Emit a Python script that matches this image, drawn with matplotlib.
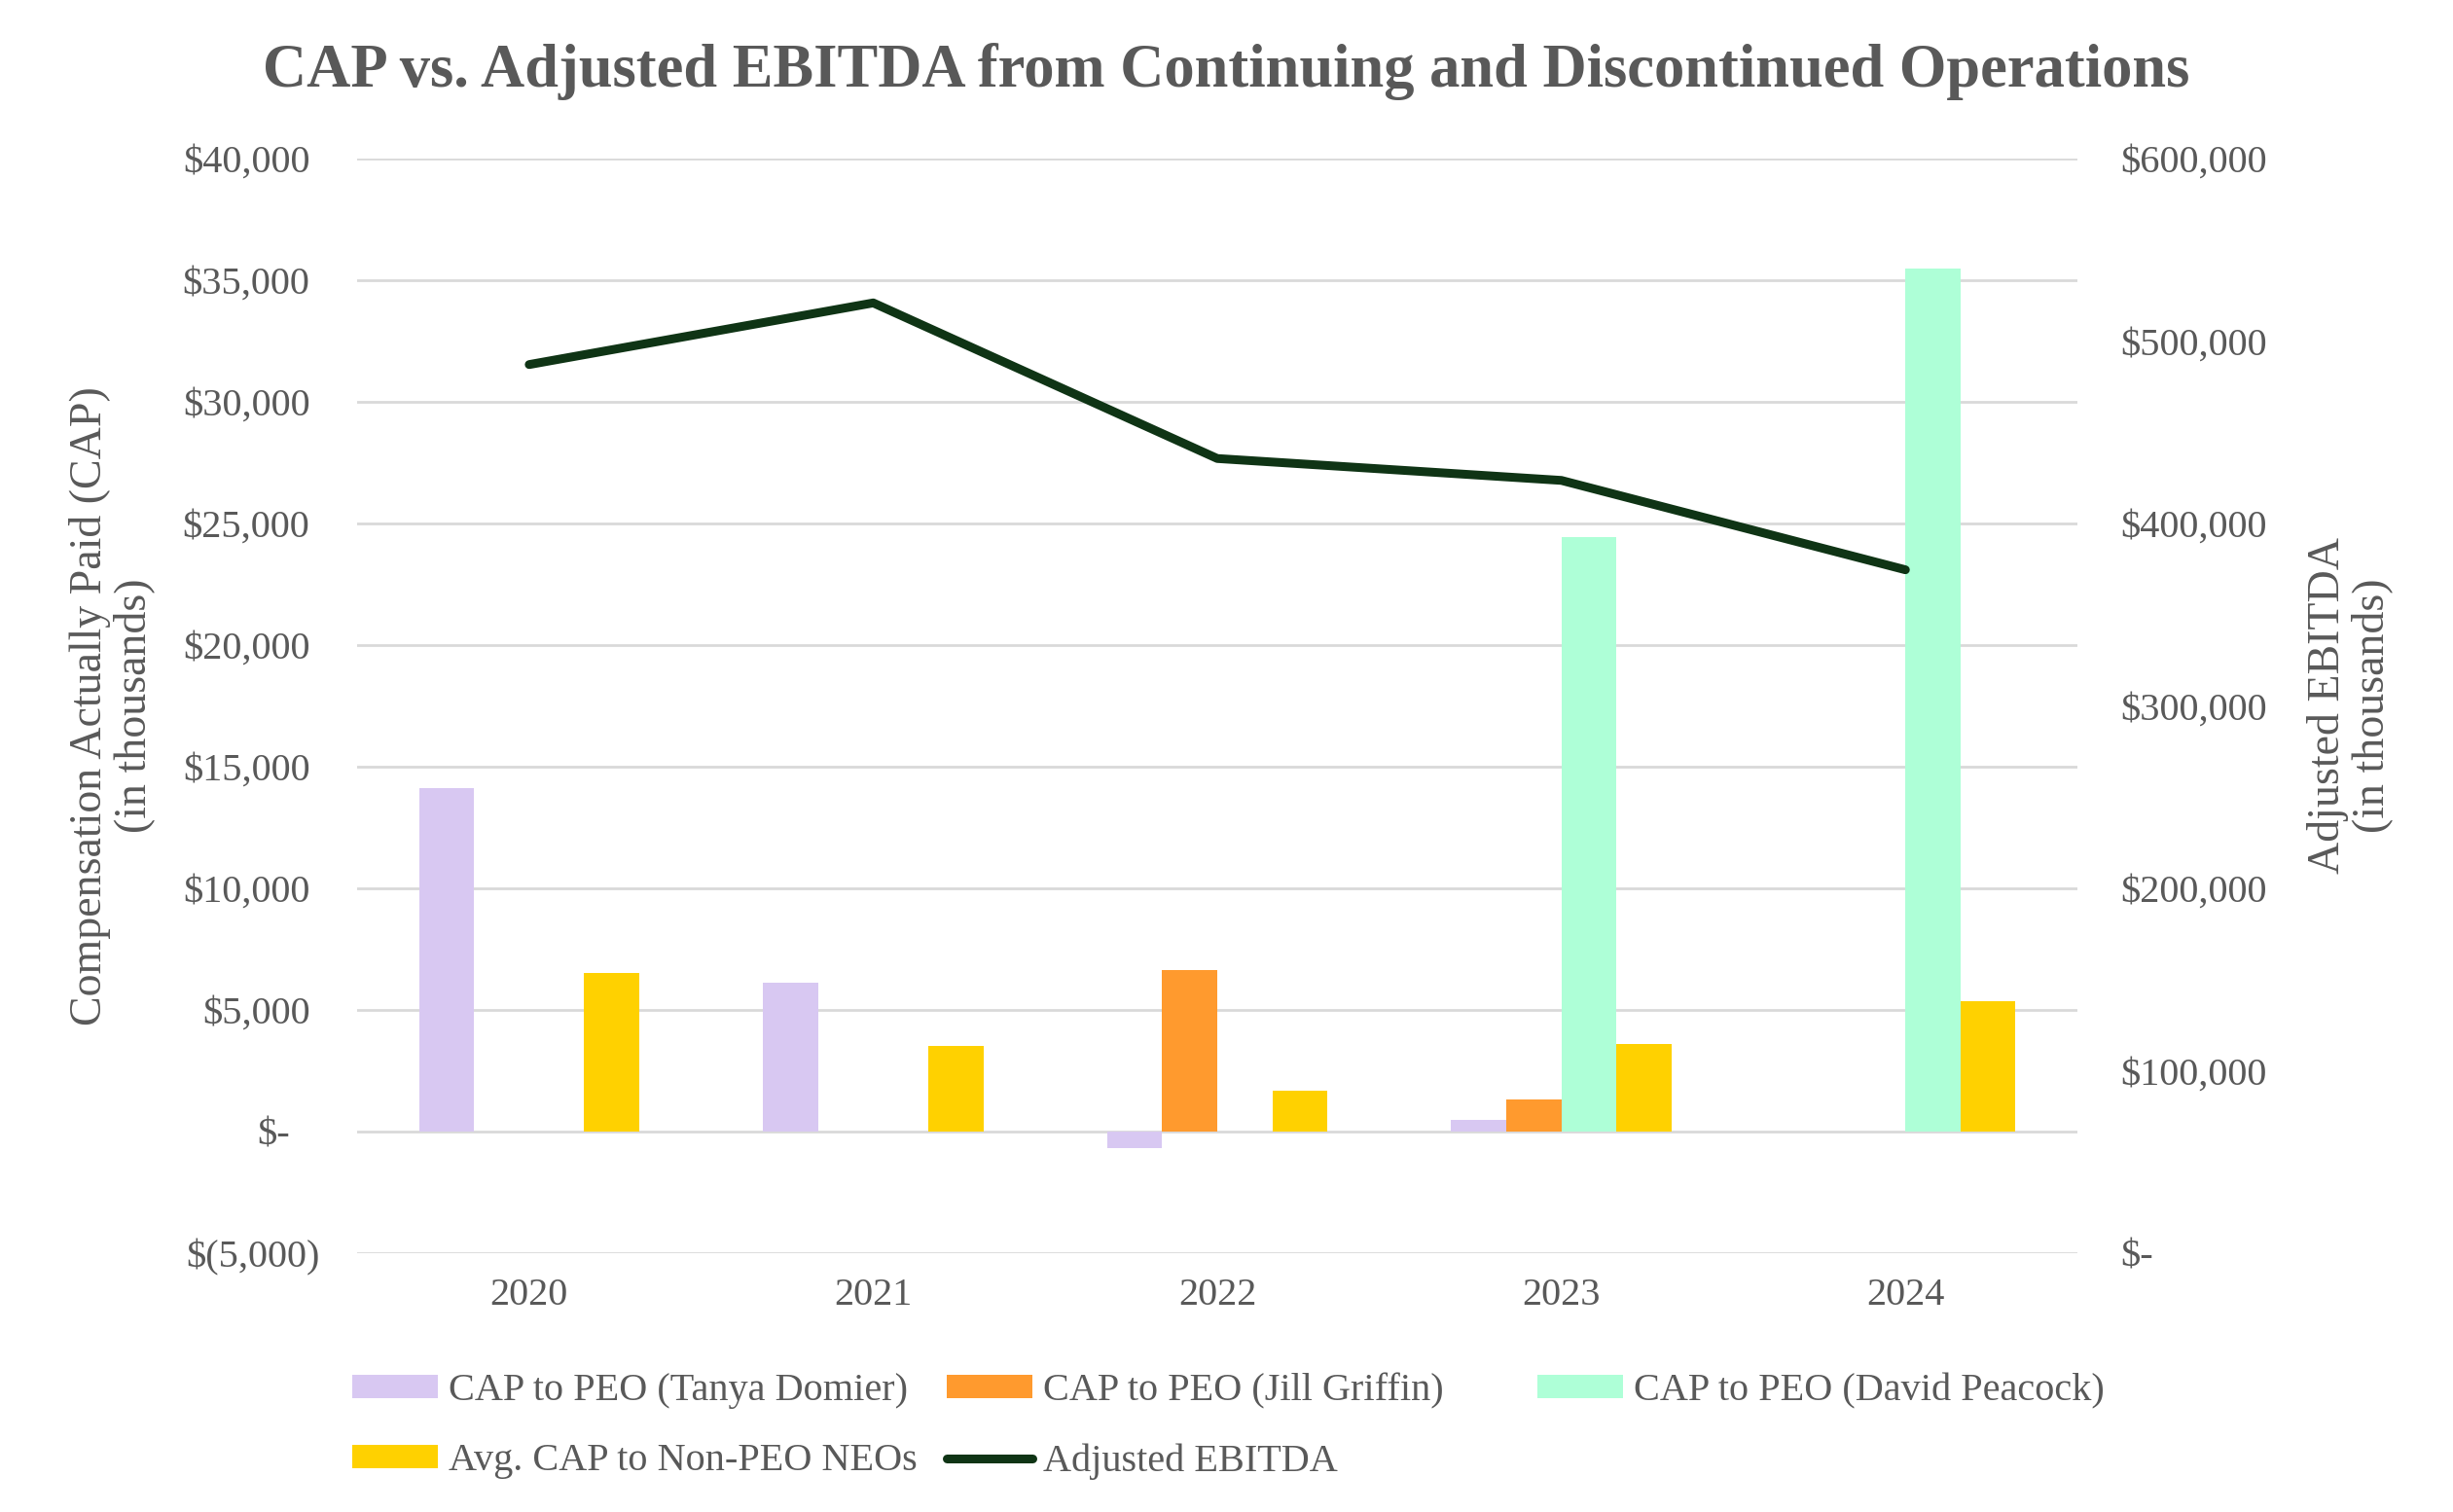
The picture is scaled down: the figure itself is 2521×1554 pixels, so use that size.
# CAP vs. Adjusted EBITDA chart
import numpy as np
import matplotlib
matplotlib.use("Agg")
import matplotlib.pyplot as plt
import matplotlib.transforms as mtransforms

plt.rcParams['font.family'] = ['Liberation Serif', 'DejaVu Serif']

# Data (in thousands)
years = ["2020", "2021", "2022", "2023", "2024"]
cap_domier = [14100, 6130, -700, 490, np.nan]
cap_griffin = [np.nan, np.nan, 6640, 1320, np.nan]
cap_peacock = [np.nan, np.nan, np.nan, 24440, 35490]
cap_neo_avg = [6530, 3530, 1680, 3585, 5370]
adj_ebitda = [487100, 520900, 435600, 423600, 374600]

left_ticks = [-5000, 0, 5000, 10000, 15000, 20000, 25000, 30000, 35000, 40000]
left_labels = ["$(5,000)", "$-", "$5,000", "$10,000", "$15,000", "$20,000",
               "$25,000", "$30,000", "$35,000", "$40,000"]
right_ticks = [0, 100000, 200000, 300000, 400000, 500000, 600000]
right_labels = ["$-", "$100,000", "$200,000", "$300,000", "$400,000",
                "$500,000", "$600,000"]

series_names = ["CAP to PEO (Tanya Domier)", "CAP to PEO (Jill Griffin)",
                "CAP to PEO (David Peacock)", "Avg. CAP to Non-PEO NEOs"]
series_colors = ["#D8C8F2", "#FF9A2E", "#AEFFD7", "#FFD100"]
line_name = "Adjusted EBITDA"
line_color = "#0F3415"
grey = "#595959"

# Figure
fig = plt.figure(figsize=(25.21, 15.54), dpi=100)
ax = fig.add_axes([0.1456, 0.1712, 0.7013, 0.7239])
ax2 = ax.twinx()

x = np.arange(len(years))
width = 0.16
offsets = [-0.24, -0.08, 0.08, 0.24]
bars = []
for vals, off, col, name in zip([cap_domier, cap_griffin, cap_peacock, cap_neo_avg],
                                offsets, series_colors, series_names):
    bars.append(ax.bar(x + off, vals, width, color=col, label=name, zorder=2))

line, = ax2.plot(x, adj_ebitda, color=line_color, lw=6.5,
                 solid_capstyle='round', label=line_name)

# Axes styling
ax.set_xlim(-0.5, 4.5)
ax.set_ylim(-5000, 40000)
ax2.set_ylim(0, 600000)
ax.set_axisbelow(True)
ax.yaxis.grid(True, color="#D9D9D9", lw=2.0, zorder=0)
for a in (ax, ax2):
    for s in a.spines.values():
        s.set_visible(False)

ax.set_xticks(x, years)
ax.set_yticks(left_ticks, left_labels)
ax2.set_yticks(right_ticks, right_labels)
ax.tick_params(axis='x', length=0, pad=18, labelsize=29, labelcolor=grey)
ax.tick_params(axis='y', length=0, pad=35, labelsize=29, labelcolor=grey)
ax2.tick_params(axis='y', length=0, pad=32, labelsize=29, labelcolor=grey)

# accounting-style alignment of the left labels
shift = {"$(5,000)": 10, "$-": -20}
for lab in ax.get_yticklabels():
    dx = shift.get(lab.get_text(), 0)
    if dx:
        lab.set_transform(lab.get_transform() +
                          mtransforms.ScaledTranslation(dx / 100, 0, fig.dpi_scale_trans))

ax.set_ylabel("Compensation Actually Paid (CAP)\n(in thousands)", fontsize=33,
              color=grey, ha='center', va='center', linespacing=1.08)
ax.yaxis.set_label_coords(-0.1425, 0.5)
ax2.set_ylabel("Adjusted EBITDA\n(in thousands)", fontsize=33, color=grey,
               ha='center', va='center', rotation=90, linespacing=1.08)
ax2.yaxis.set_label_coords(1.1584, 0.5)

fig.text(0.5, 0.953, "CAP vs. Adjusted EBITDA from Continuing and Discontinued Operations",
         ha='center', va='center', fontsize=45, fontweight='bold', color=grey)

# Legend in three columns
leg_kw = dict(loc='upper left', frameon=False, fontsize=29, handlelength=2.18,
              handleheight=0.53, handletextpad=0.27, labelspacing=0.88,
              borderpad=0, borderaxespad=0, labelcolor=grey)
leg_top = 0.092
fig.legend(handles=[bars[0], bars[3]], labels=[series_names[0], series_names[3]],
           bbox_to_anchor=(0.1436, leg_top), **leg_kw)
fig.legend(handles=[bars[1], line], labels=[series_names[1], line_name],
           bbox_to_anchor=(0.386, leg_top), **leg_kw)
fig.legend(handles=[bars[2]], labels=[series_names[2]],
           bbox_to_anchor=(0.6267, leg_top), **leg_kw)

fig.savefig("out.png", dpi=100)
